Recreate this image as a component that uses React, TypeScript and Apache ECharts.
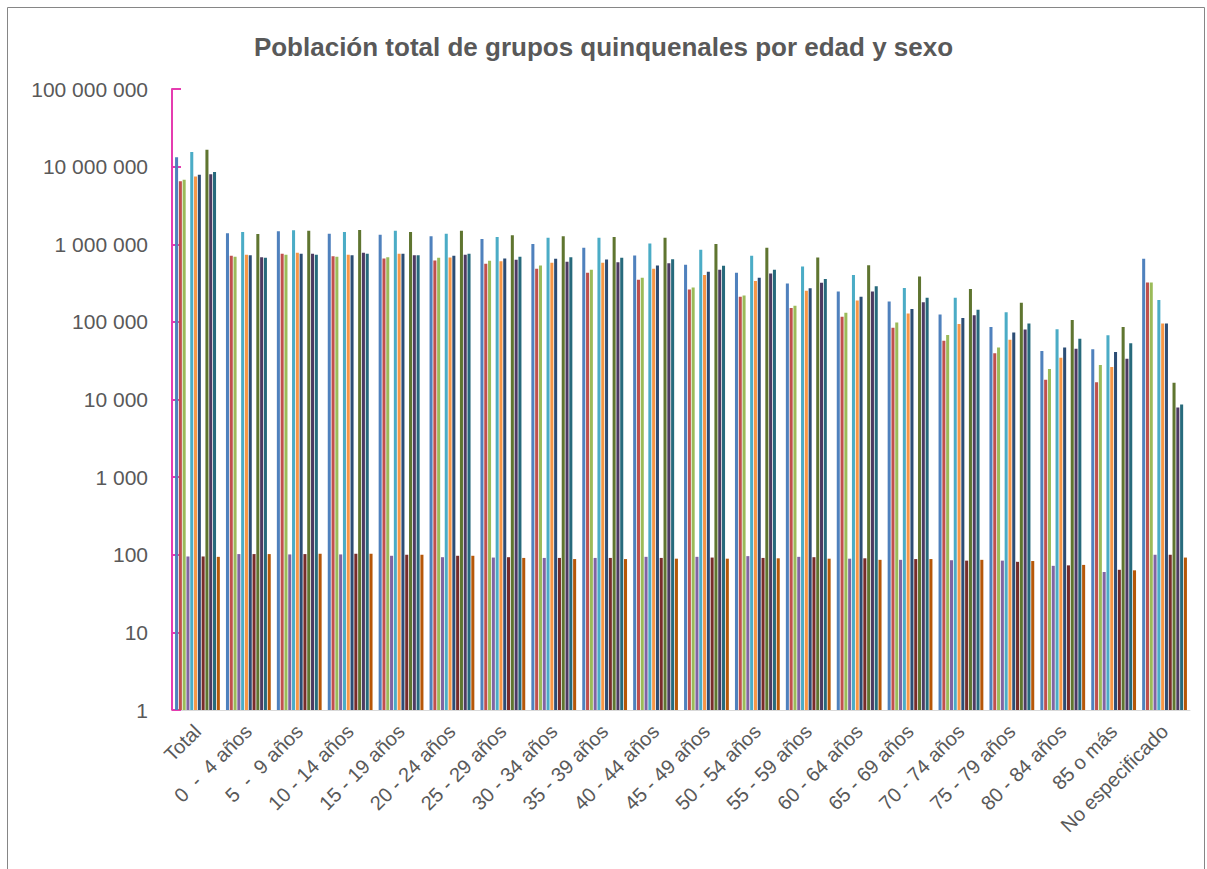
import React, { useEffect, useRef } from "react";
import * as echarts from "echarts";

const categories = [
  "Total",
  "0  -  4 años",
  "5  -  9 años",
  "10 - 14 años",
  "15 - 19 años",
  "20 - 24 años",
  "25 - 29 años",
  "30 - 34 años",
  "35 - 39 años",
  "40 - 44 años",
  "45 - 49 años",
  "50 - 54 años",
  "55 - 59 años",
  "60 - 64 años",
  "65 - 69 años",
  "70 - 74 años",
  "75 - 79 años",
  "80 - 84 años",
  "85 o más",
  "No especificado",
];

const seriesNames = [
  "Total (1)",
  "Hombres (1)",
  "Mujeres (1)",
  "Índice de masculinidad (1)",
  "Total (2)",
  "Hombres (2)",
  "Mujeres (2)",
  "Índice de masculinidad (2)",
  "Total (3)",
  "Hombres (3)",
  "Mujeres (3)",
  "Índice de masculinidad (3)",
];

const total1 = [13200000, 1390000, 1470000, 1370000, 1330000, 1270000, 1170000, 1010000, 899000, 716000, 543000, 428000, 312000, 246000, 183000, 124000, 86000, 42300, 44500, 650000];
const hombres1 = [6500000, 709000, 752000, 702000, 655000, 617000, 559000, 482000, 428000, 348000, 261000, 210000, 151000, 116000, 83700, 57000, 39500, 17900, 16700, 321000];
const mujeres1 = [6760000, 689000, 730000, 689000, 682000, 668000, 611000, 532000, 468000, 369000, 277000, 218000, 161000, 131000, 98000, 68000, 46600, 24800, 27900, 321000];
const indice1 = [95, 102, 101, 101, 97, 93, 92, 91, 91, 94, 94, 96, 94, 89, 86, 85, 84, 72, 60, 100];
const total2 = [15400000, 1440000, 1520000, 1440000, 1490000, 1370000, 1240000, 1210000, 1210000, 1020000, 847000, 709000, 516000, 403000, 274000, 204000, 133000, 80500, 67300, 192000];
const hombres2 = [7460000, 730000, 775000, 730000, 752000, 675000, 605000, 576000, 576000, 482000, 403000, 337000, 251000, 188000, 128000, 94000, 59000, 34400, 26300, 95000];
const mujeres2 = [7840000, 724000, 752000, 724000, 752000, 709000, 655000, 649000, 636000, 532000, 441000, 369000, 272000, 210000, 146000, 112000, 72800, 46600, 41000, 95000];
const indice2 = [95, 102, 102, 103, 100, 97, 93, 91, 91, 91, 92, 91, 93, 90, 88, 84, 81, 73, 64, 100];
const total3 = [16500000, 1360000, 1490000, 1530000, 1440000, 1490000, 1310000, 1270000, 1240000, 1210000, 1010000, 899000, 674000, 538000, 384000, 266000, 176000, 106000, 86000, 16400];
const hombres3 = [8000000, 682000, 752000, 775000, 724000, 730000, 630000, 593000, 588000, 570000, 468000, 420000, 318000, 246000, 179000, 122000, 79600, 44900, 33400, 7900];
const mujeres3 = [8500000, 668000, 730000, 752000, 724000, 752000, 689000, 682000, 668000, 643000, 527000, 468000, 358000, 288000, 204000, 143000, 95000, 60400, 53000, 8600];
const indice3 = [94, 102, 103, 103, 100, 97, 91, 88, 88, 89, 89, 90, 89, 86, 88, 86, 83, 74, 63, 92];

const seriesData = [total1, hombres1, mujeres1, indice1, total2, hombres2, mujeres2, indice2, total3, hombres3, mujeres3, indice3];

const colors = ["#4F81BD", "#C0504D", "#9BBB59", "#8064A2", "#4BACC6", "#F79646", "#2C4D75", "#772C2A", "#5F7530", "#4D3B62", "#276A7C", "#B65708"];

const formatNum = (v: number) =>
  Math.round(v).toString().replace(/\B(?=(\d{3})+(?!\d))/g, " ");

export default function App() {
  const ref = useRef<HTMLDivElement>(null);
  useEffect(() => {
    if (!ref.current) return;
    const chart = echarts.init(ref.current, undefined, { renderer: "svg" });
    chart.setOption({
      animation: false,
      backgroundColor: "#ffffff",
      color: colors,
      title: {
        text: "Población total de grupos quinquenales por edad y sexo",
        left: "center",
        top: 29,
        textStyle: { fontFamily: "Liberation Sans, Arial", fontSize: 26, fontWeight: "bold", color: "#595959" },
      },
      graphic: [
        {
          type: "rect",
          shape: { x: 7.5, y: 7.5, width: 1197, height: 900 },
          style: { fill: "none", stroke: "#868686", lineWidth: 1 },
          silent: true,
        },
      ],
      grid: { left: 172, right: 17, top: 89, bottom: 159, containLabel: false },
      xAxis: {
        type: "category",
        data: categories,
        axisLine: { show: true, lineStyle: { color: "#D9D9D9", width: 1 } },
        axisTick: { show: false },
        axisLabel: {
          rotate: 45,
          interval: 0,
          margin: 18,
          color: "#595959",
          fontSize: 20,
          fontFamily: "Liberation Sans, Arial",
        },
      },
      yAxis: {
        type: "log",
        logBase: 10,
        min: 1,
        max: 100000000,
        interval: 1,
        splitNumber: 8,
        axisLine: { show: true, lineStyle: { color: "#E53CB0", width: 2 } },
        axisTick: { show: true, inside: true, length: 9, lineStyle: { color: "#E53CB0", width: 2 } },
        splitLine: { show: false },
        axisLabel: {
          color: "#595959",
          fontSize: 21,
          margin: 24,
          fontFamily: "Liberation Sans, Arial",
          formatter: (v: number) => formatNum(v),
        },
      },
      series: seriesData.map((d, i) => ({
        name: seriesNames[i],
        type: "bar",
        data: d,
        barGap: "25%",
        barCategoryGap: "12%",
        itemStyle: { color: colors[i] },
      })),
    });
    return () => chart.dispose();
  }, []);
  return (
    <div style={{ position: "fixed", left: 0, top: 0, width: 1207, height: 869, background: "#fff" }}>
      <div ref={ref} style={{ width: 1207, height: 869 }} />
    </div>
  );
}
